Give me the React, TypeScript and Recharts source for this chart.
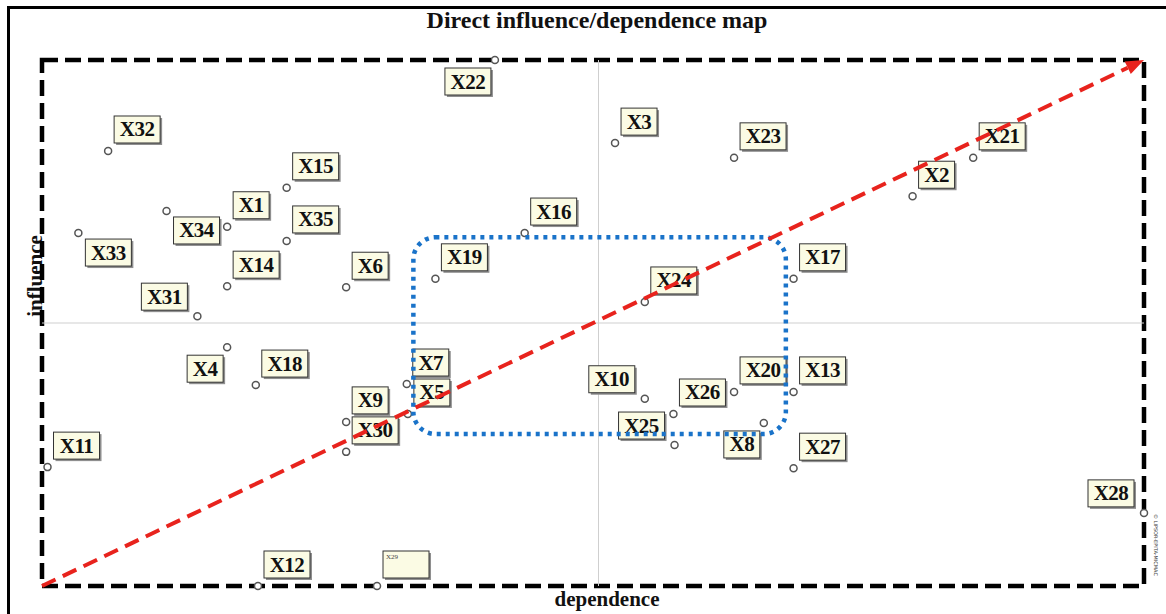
import React from 'react';
import {
  ScatterChart,
  Scatter,
  XAxis,
  YAxis,
  ReferenceLine,
  ReferenceArea,
} from 'recharts';

const variables = [
  'X1', 'X2', 'X3', 'X4', 'X5', 'X6', 'X7', 'X8', 'X9', 'X10',
  'X11', 'X12', 'X13', 'X14', 'X15', 'X16', 'X17', 'X18', 'X19', 'X20',
  'X21', 'X22', 'X23', 'X24', 'X25', 'X26', 'X27', 'X28', 'X29', 'X30',
  'X31', 'X32', 'X33', 'X34', 'X35',
];
const dependence = [
  16.8, 79.0, 52.0, 16.8, 33.2, 27.6, 33.1, 65.5, 27.6, 54.7,
  0.5, 19.6, 68.2, 16.8, 22.2, 43.8, 68.2, 19.4, 35.7, 62.8,
  84.5, 41.1, 62.8, 54.7, 57.4, 57.3, 68.2, 100, 30.4, 27.6,
  14.1, 6.0, 3.3, 11.3, 22.2,
];
const influence = [
  68.3, 74.1, 84.2, 45.4, 32.7, 56.8, 38.4, 31.0, 31.2, 35.6,
  22.6, 0, 36.9, 57.0, 75.7, 67.1, 58.4, 38.2, 58.4, 36.9,
  81.4, 100, 81.4, 54.0, 26.8, 32.7, 22.4, 13.9, 0, 25.5,
  51.3, 82.7, 67.1, 71.3, 65.6,
];

// where the name tag sits relative to its point (default: up-right)
const tagSide: Record<string, string> = {
  X22: 'dl', X34: 'dr', X33: 'dr', X31: 'ul', X4: 'dl',
  X25: 'ul', X10: 'ul', X8: 'dl', X28: 'ul',
};
// the tag of X29 is printed very small in the source map
const tinyTags = ['X29'];

const centerDependence = 50.5;
const centerInfluence = 50;
const stableZone = { x1: 33.7, x2: 67.5, y1: 28.9, y2: 66.3 };

const points = variables.map((name, i) => ({
  name,
  dependence: dependence[i],
  influence: influence[i],
}));

const serif = "'Liberation Serif', 'Times New Roman', serif";

const PointWithTag = (props: any) => {
  const { cx, cy, payload } = props;
  if (cx == null || cy == null) return null;
  const name: string = payload.name;
  const tiny = tinyTags.includes(name);
  const w = name.length === 2 ? 36 : 46;
  const h = 27;
  const side = tagSide[name] || 'ur';
  let bx = cx + 6;
  let by = cy - 35;
  if (side === 'dr') { bx = cx + 7; by = cy + 6; }
  if (side === 'ul') { bx = cx - 10 - w; by = cy - 33; }
  if (side === 'dl') { bx = cx - 4 - w; by = cy + 8; }
  return (
    <g>
      <rect x={bx + 2} y={by + 2} width={w} height={h} fill="#8f8f8f" />
      <rect x={bx} y={by} width={w} height={h} fill="#fbfbe4" stroke="#333" strokeWidth={1} />
      {tiny ? (
        <text x={bx + 3} y={by + 8} fontSize={7} fontFamily={serif} fill="#444">{name}</text>
      ) : (
        <text
          x={bx + w / 2}
          y={by + h / 2 + 7}
          textAnchor="middle"
          fontSize={21}
          fontWeight="bold"
          fontFamily={serif}
          fill="#111"
          letterSpacing={-0.5}
        >
          {name}
        </text>
      )}
      <circle cx={cx} cy={cy} r={3.5} fill="#fff" stroke="#555" strokeWidth={1.5} />
    </g>
  );
};

const DiagonalArrow = (props: any) => {
  const { x1, y1, x2, y2 } = props;
  if (x1 == null) return null;
  const ang = Math.atan2(y2 - y1, x2 - x1);
  const head = 18;
  const bx = x2 - head * Math.cos(ang);
  const by = y2 - head * Math.sin(ang);
  const px = Math.sin(ang) * 7;
  const py = -Math.cos(ang) * 7;
  return (
    <g>
      <line x1={x1} y1={y1} x2={bx} y2={by} stroke="#e8231d" strokeWidth={4} strokeDasharray="15 8" />
      <polygon
        points={`${x2},${y2} ${bx + px},${by + py} ${bx - px},${by - py}`}
        fill="#e8231d"
      />
    </g>
  );
};

const ZoneShape = (props: any) => {
  const { x, y, width, height } = props;
  if (x == null) return null;
  return (
    <rect
      x={x}
      y={y}
      width={width}
      height={height}
      rx={22}
      ry={22}
      fill="none"
      stroke="#1a73c9"
      strokeWidth={4.5}
      strokeDasharray="4 5"
    />
  );
};

const App = () => {
  return (
    <div style={{ position: 'absolute', left: 0, top: 0, width: 1166, height: 614, background: '#fff', overflow: 'hidden' }}>
      <div
        style={{
          position: 'absolute', left: 7, top: 6, width: 1200, height: 700,
          borderTop: '3px solid #000', borderLeft: '3px solid #000',
        }}
      />
      <div
        style={{
          position: 'absolute', left: 0, top: 7, width: 1194, textAlign: 'center',
          fontFamily: serif, fontWeight: 'bold', fontSize: 24, color: '#111',
        }}
      >
        Direct influence/dependence map
      </div>
      <div
        style={{
          position: 'absolute', left: 35, top: 276, transform: 'translate(-50%, -50%) rotate(-90deg)',
          fontFamily: serif, fontWeight: 'bold', fontSize: 21, color: '#111', whiteSpace: 'nowrap',
        }}
      >
        influence
      </div>
      <div
        style={{
          position: 'absolute', left: 607, top: 599, transform: 'translate(-50%, -50%)',
          fontFamily: serif, fontWeight: 'bold', fontSize: 21, color: '#111', whiteSpace: 'nowrap',
        }}
      >
        dependence
      </div>
      <div
        style={{
          position: 'absolute', left: 1156, top: 545, transform: 'translate(-50%, -50%) rotate(90deg)',
          fontFamily: "'DejaVu Sans', sans-serif", fontSize: 5, color: '#333', whiteSpace: 'nowrap',
        }}
      >
        © LIPSOR-EPITA-MICMAC
      </div>
      <div style={{ position: 'absolute', left: 0, top: 0 }}>
        <ScatterChart width={1166} height={614} margin={{ top: 60, right: 22, bottom: 28, left: 42 }}>
          <XAxis type="number" dataKey="dependence" domain={[0, 100]} hide />
          <YAxis type="number" dataKey="influence" domain={[0, 100]} hide />
          <ReferenceLine x={centerDependence} stroke="#cfcfcf" strokeWidth={1} />
          <ReferenceLine y={centerInfluence} stroke="#cfcfcf" strokeWidth={1} />
          <ReferenceArea
            x1={0}
            x2={100}
            y1={0}
            y2={100}
            fill="none"
            fillOpacity={0}
            stroke="#000"
            strokeWidth={4.5}
            strokeDasharray="16 7"
            ifOverflow="visible"
          />
          <Scatter data={points} shape={PointWithTag} isAnimationActive={false} />
          <ReferenceArea
            x1={stableZone.x1}
            x2={stableZone.x2}
            y1={stableZone.y1}
            y2={stableZone.y2}
            shape={ZoneShape}
            ifOverflow="visible"
            zIndex={1000}
          />
          <ReferenceLine
            segment={[{ x: 0, y: 0 }, { x: 100, y: 100 }]}
            shape={DiagonalArrow}
            ifOverflow="visible"
            zIndex={1000}
          />
        </ScatterChart>
      </div>
    </div>
  );
};

export default App;
